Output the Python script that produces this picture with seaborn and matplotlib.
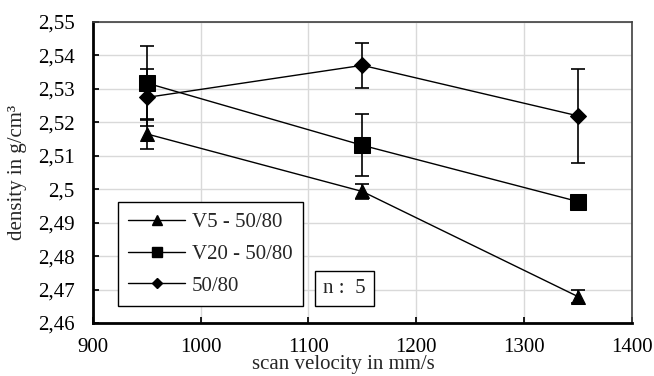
import seaborn as sns
import matplotlib.pyplot as plt
import matplotlib.ticker as mticker
from matplotlib.lines import Line2D
import pandas as pd

sns.set_theme(style="whitegrid")
plt.rcParams['font.family'] = ['Liberation Serif', 'DejaVu Serif']

velocity = [950, 1150, 1350]
series_names = ["V5 - 50/80", "V20 - 50/80", "50/80"]
v5_density = [2.5165, 2.4993, 2.4679]
v5_err = [0.0044, 0.0022, 0.0020]
v20_density = [2.5317, 2.5131, 2.4963]
v20_err = [0.0110, 0.0093, 0.0008]
ref_density = [2.5274, 2.5370, 2.5219]
ref_err = [0.0085, 0.0068, 0.0140]

df = pd.DataFrame({
    'velocity': velocity * 3,
    'density': v5_density + v20_density + ref_density,
    'err': v5_err + v20_err + ref_err,
    'series': [s for s in series_names for _ in velocity],
})

markers = {"V5 - 50/80": "^", "V20 - 50/80": "s", "50/80": "D"}
msizes = {"V5 - 50/80": 10, "V20 - 50/80": 11, "50/80": 8}
legend_msizes = {"V5 - 50/80": 7, "V20 - 50/80": 7, "50/80": 5}

fig, ax = plt.subplots(figsize=(6.54, 3.76), dpi=100)

for name in series_names:
    sub = df[df['series'] == name]
    ax.errorbar(sub['velocity'], sub['density'], yerr=sub['err'], fmt='none',
                ecolor='black', elinewidth=1.2, capsize=5, capthick=1.2, zorder=3)
    sns.lineplot(data=sub, x='velocity', y='density', ax=ax, color='black',
                 linewidth=1.0, marker=markers[name], markersize=msizes[name],
                 markeredgecolor='black', markerfacecolor='black', zorder=4)

ax.set_xlim(900, 1400)
ax.set_ylim(2.46, 2.55)
ax.xaxis.set_major_locator(mticker.MultipleLocator(100))
ax.yaxis.set_major_locator(mticker.MultipleLocator(0.01))
ax.yaxis.set_major_formatter(mticker.FuncFormatter(
    lambda v, p: f"{round(v, 2):g}".replace('.', ',')))
ax.grid(True, color='#d9d9d9', linewidth=1.0)
ax.tick_params(axis='both', labelsize=15, colors='black', length=4, direction='in',
               left=True, bottom=True)
ax.tick_params(axis='x', pad=11)
ax.tick_params(axis='y', pad=13)

for side in ['left', 'bottom']:
    ax.spines[side].set_color('black')
    ax.spines[side].set_linewidth(2.0)
for side in ['top', 'right']:
    ax.spines[side].set_color('#404040')
    ax.spines[side].set_linewidth(1.2)

ax.set_xlabel("scan velocity in mm/s", fontsize=15)
ax.xaxis.label.set_va('baseline')
ax.xaxis.set_label_coords(0.464, -0.152)
ax.set_ylabel("density in g/cm³", fontsize=15)
ax.yaxis.label.set_va('center')
ax.yaxis.set_label_coords(-0.139, 0.5)

handles = [Line2D([0], [0], color='black', linewidth=1.0, marker=markers[n],
                  markersize=legend_msizes[n], markerfacecolor='black', markeredgecolor='black')
           for n in series_names]
leg = ax.legend(handles, series_names, loc='lower left', bbox_to_anchor=(0.046, 0.056),
                borderaxespad=0, fontsize=15, frameon=True, fancybox=False,
                edgecolor='black', framealpha=1, handlelength=2.75, handletextpad=0.3,
                borderpad=0.5, labelspacing=0.58)
leg.get_frame().set_linewidth(1.0)

ax.text(0.427, 0.115, "n :  5", transform=ax.transAxes, fontsize=15, ha='left', va='center',
        bbox=dict(boxstyle='square,pad=0.4', facecolor='white', edgecolor='black', linewidth=1.0))

plt.subplots_adjust(left=0.142, right=0.966, top=0.942, bottom=0.141)
plt.savefig('out.png', dpi=100)
